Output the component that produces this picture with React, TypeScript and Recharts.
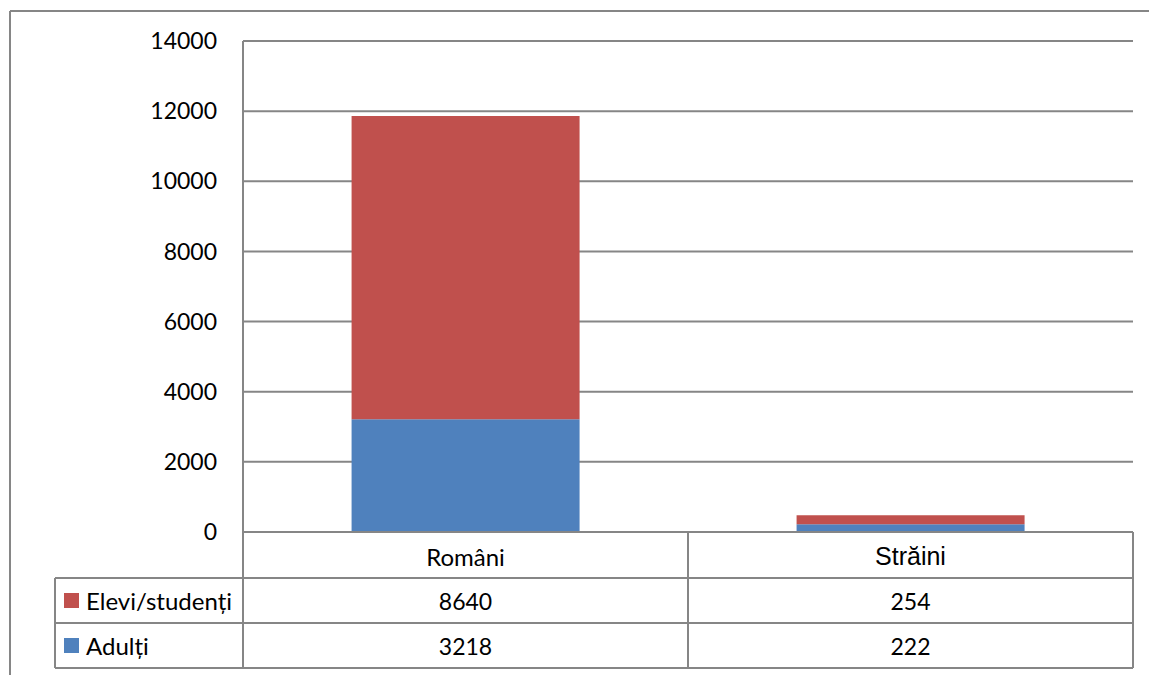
import React from 'react';
import { BarChart, Bar, XAxis, YAxis, CartesianGrid, Customized } from 'recharts';

const categories = ['Români', 'Străini'];
const elevi = [8640, 254];
const adulti = [3218, 222];
const yTicks = [0, 2000, 4000, 6000, 8000, 10000, 12000, 14000];

const seriesNames = ['Elevi/studenți', 'Adulți'];
const RED = '#C0504D';
const BLUE = '#4F81BD';
const LINE = '#868686';
const FONT = 'Lato, "Open Sans", sans-serif';
const NUM_SIZE = 23;
const WORD_SIZE = 24;

// layout of the plot / data table
const W = 1149;
const H = 675;
const PLOT_LEFT = 243;
const PLOT_RIGHT = 1133;
const PLOT_TOP = 41;
const PLOT_BOTTOM = 532;
const ROW_H = 45;
const TABLE_LEFT = 55;

const data = categories.map((name, i) => ({ name, elevi: elevi[i], adulti: adulti[i] }));

function TableTick(props: any) {
  const { x, payload, index } = props;
  const name = payload.value;
  const i = index ?? categories.indexOf(name);
  const isArial = name === 'Străini';
  return (
    <g>
      <text
        x={x}
        y={PLOT_BOTTOM + 24}
        textAnchor="middle"
        dominantBaseline="central"
        fontSize={isArial ? 25 : WORD_SIZE}
        fontFamily={isArial ? '"Liberation Sans", Arial, sans-serif' : FONT}
        fill="#000"
      >
        {name}
      </text>
      <text x={x} y={PLOT_BOTTOM + 46 + 23} textAnchor="middle" dominantBaseline="central" fontSize={NUM_SIZE} fontFamily={FONT} fill="#000">
        {elevi[i]}
      </text>
      <text x={x} y={PLOT_BOTTOM + 46 + ROW_H + 23} textAnchor="middle" dominantBaseline="central" fontSize={NUM_SIZE} fontFamily={FONT} fill="#000">
        {adulti[i]}
      </text>
    </g>
  );
}

function DataTable() {
  const r1 = PLOT_BOTTOM + 46;
  const r2 = r1 + ROW_H;
  const r3 = r2 + ROW_H;
  const mid = (PLOT_LEFT + PLOT_RIGHT) / 2;
  const sw = 2;
  return (
    <g>
      {/* outer chart border */}
      <line x1={10} y1={11} x2={W} y2={11} stroke={LINE} strokeWidth={sw} />
      <line x1={10} y1={11} x2={10} y2={H} stroke={LINE} strokeWidth={sw} />
      {/* table lines */}
      <line x1={TABLE_LEFT} y1={r1} x2={PLOT_RIGHT} y2={r1} stroke={LINE} strokeWidth={sw} />
      <line x1={TABLE_LEFT} y1={r2} x2={PLOT_RIGHT} y2={r2} stroke={LINE} strokeWidth={sw} />
      <line x1={TABLE_LEFT} y1={r3} x2={PLOT_RIGHT} y2={r3} stroke={LINE} strokeWidth={sw} />
      <line x1={TABLE_LEFT} y1={r1} x2={TABLE_LEFT} y2={r3} stroke={LINE} strokeWidth={sw} />
      <line x1={PLOT_LEFT} y1={PLOT_TOP} x2={PLOT_LEFT} y2={r3} stroke={LINE} strokeWidth={sw} />
      <line x1={mid} y1={PLOT_BOTTOM} x2={mid} y2={r3} stroke={LINE} strokeWidth={sw} />
      <line x1={PLOT_RIGHT} y1={PLOT_BOTTOM} x2={PLOT_RIGHT} y2={r3} stroke={LINE} strokeWidth={sw} />
      {/* legend keys */}
      {seriesNames.map((s, i) => (
        <g key={s}>
          <rect x={64} y={r1 + 15 + i * ROW_H} width={15} height={15} fill={i === 0 ? RED : BLUE} />
          <text x={86} y={r1 + 22 + i * ROW_H} dominantBaseline="central" fontSize={WORD_SIZE} fontFamily={FONT} fill="#000">
            {s}
          </text>
        </g>
      ))}
    </g>
  );
}

export default function App() {
  return (
    <div style={{ position: 'absolute', left: 0, top: 0, width: W, height: H, background: '#fff' }}>
      <BarChart
        width={W}
        height={H}
        data={data}
        margin={{ top: PLOT_TOP, right: W - PLOT_RIGHT, bottom: 0, left: PLOT_LEFT - 100 }}
        barCategoryGap="24.4%"
      >
        <CartesianGrid horizontal vertical={false} stroke={LINE} strokeWidth={2} />
        <XAxis
          dataKey="name"
          height={H - PLOT_BOTTOM}
          axisLine={{ stroke: LINE, strokeWidth: 2 }}
          tickLine={false}
          tick={<TableTick />}
          interval={0}
        />
        <YAxis
          width={100}
          domain={[0, 14000]}
          ticks={yTicks}
          axisLine={false}
          tickLine={false}
          tickMargin={20}
          tick={{ fill: '#000', fontSize: NUM_SIZE, fontFamily: FONT }}
        />
        <Bar dataKey="adulti" stackId="a" fill={BLUE} isAnimationActive={false} />
        <Bar dataKey="elevi" stackId="a" fill={RED} isAnimationActive={false} />
        <Customized component={<DataTable />} />
      </BarChart>
    </div>
  );
}
